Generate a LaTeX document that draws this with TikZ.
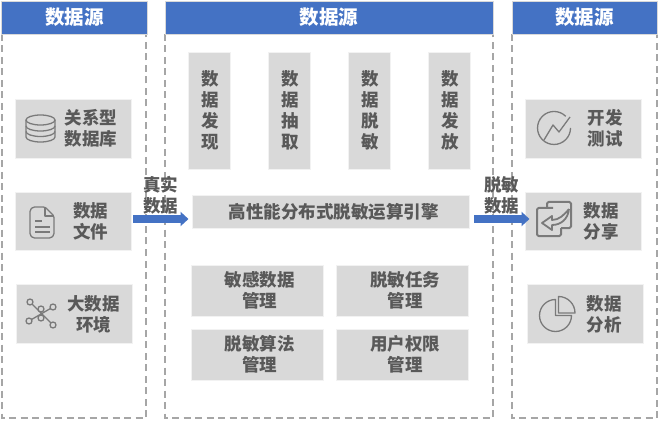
\documentclass[tikz,border=0pt]{standalone}
\usepackage{fontspec}
\setmainfont{Noto Sans CJK SC}
\usetikzlibrary{arrows.meta}
\definecolor{headblue}{HTML}{4472C4}
\definecolor{boxgray}{HTML}{D9D9D9}
\definecolor{textgray}{HTML}{595959}
\definecolor{icongray}{HTML}{7A7A7A}
\definecolor{dashgray}{HTML}{A6A6A6}
\tikzset{
  panelhead/.style={draw=boxgray,line width=0.8pt,fill=headblue,text=white,font=\bfseries\fontsize{19.5}{22}\selectfont,minimum height=33pt,inner sep=0pt},
  graybox/.style={draw=white!95!black,line width=0.8pt,fill=boxgray,inner sep=0pt},
  flowlabel/.style={text=textgray,font=\bfseries\fontsize{17.5}{21}\selectfont,align=center,inner sep=0pt},
  panelline/.style={draw=dashgray,line width=1.5pt,dash pattern=on 7pt off 4.5pt},
  flowarrow/.style={draw=headblue,line width=7pt,-{Triangle[length=8pt,width=14pt]}},
  iconline/.style={draw=icongray,line width=1.3pt,line join=round}
}
\begin{document}
\begin{tikzpicture}[x=1pt,y=-1pt]
\useasboundingbox (0,0) rectangle (661,422);
% dashed panels
\draw[panelline] (2,34) -- (2,418) -- (146,418) -- (146,34);
\draw[panelline] (165,34) -- (165,418) -- (493,418) -- (493,34);
\draw[panelline] (512,34) -- (512,418) -- (657,418) -- (657,34);
% headers
\node[panelhead,minimum width=146pt] (headl) at (74.5,17.5) {数据源};
\node[panelhead,minimum width=328pt] (headm) at (329,17.5) {数据源};
\node[panelhead,minimum width=145pt] (headr) at (584.5,17.5) {数据源};
% left column
\node[graybox,minimum width=116pt,minimum height=59pt] (relbox) at (73.5,128.5) {};
\node[graybox,minimum width=116pt,minimum height=58pt] (filebox) at (73.5,221.5) {};
\node[graybox,minimum width=116pt,minimum height=59pt] (bigbox) at (74.5,314) {};
\node[flowlabel] (reltxt) at (91,128) {关系型\\数据库};
\node[flowlabel] (filetxt) at (90.5,221.5) {数据\\文件};
\node[flowlabel] (bigtxt) at (93.5,314.5) {大数据\\环境};
% database icon
\draw[iconline] (26,120) -- (26,137) arc[start angle=180,end angle=0,x radius=14.5,y radius=5] -- (55,120);
\draw[iconline] (40.5,120) ellipse[x radius=14.5,y radius=5];
\draw[iconline] (26,126) arc[start angle=180,end angle=0,x radius=14.5,y radius=5];
\draw[iconline] (26,131.5) arc[start angle=180,end angle=0,x radius=14.5,y radius=5];
% file icon
\draw[iconline,rounded corners=1.5pt] (45,207) -- (33,207) -- (30,210) -- (30,235) -- (33,238) -- (51,238) -- (54,235) -- (54,216) -- cycle;
\draw[iconline] (45,207) -- (45,216) -- (54,216);
\draw[iconline] (35,221) -- (42,221) (35,227) -- (50,227) (35,232) -- (50,232);
% network icon
\draw[iconline] (30,302) -- (53,325) (29,321) -- (53,307) (41,309) -- (41,318);
\foreach \cx/\cy in {30/302,29/321,53/307,53/325,41/309,41/318}
  \draw[iconline,fill=boxgray] (\cx,\cy) circle (3pt);
% middle column
\node[graybox,minimum width=42pt,minimum height=117pt] (findbox) at (209.5,110.5) {};
\node[graybox,minimum width=42pt,minimum height=117pt] (pullbox) at (289.5,110.5) {};
\node[graybox,minimum width=42pt,minimum height=117pt] (maskbox) at (369.5,110.5) {};
\node[graybox,minimum width=42pt,minimum height=117pt] (sendbox) at (449.5,110.5) {};
\node[graybox,minimum width=277pt,minimum height=33pt] (engine) at (330.5,211.5) {};
\node[graybox,minimum width=132pt,minimum height=51pt] (sensbox) at (257.5,290.5) {};
\node[graybox,minimum width=132pt,minimum height=51pt] (taskbox) at (402.5,290.5) {};
\node[graybox,minimum width=132pt,minimum height=51pt] (algobox) at (257.5,354.5) {};
\node[graybox,minimum width=132pt,minimum height=51pt] (userbox) at (402.5,354.5) {};
\node[flowlabel] (findtxt) at (210.5,110) {数\\据\\发\\现};
\node[flowlabel] (pulltxt) at (290.5,110) {数\\据\\抽\\取};
\node[flowlabel] (masktxt) at (370.5,110) {数\\据\\脱\\敏};
\node[flowlabel] (sendtxt) at (450.5,110) {数\\据\\发\\放};
\node[flowlabel] (enginetxt) at (333.5,211.5) {高性能分布式脱敏运算引擎};
\node[flowlabel] (senstxt) at (259.5,290.5) {敏感数据\\管理};
\node[flowlabel] (tasktxt) at (405,290.5) {脱敏任务\\管理};
\node[flowlabel] (algotxt) at (259.5,354.5) {脱敏算法\\管理};
\node[flowlabel] (usertxt) at (405,354.5) {用户权限\\管理};
% right column
\node[graybox,minimum width=116pt,minimum height=59pt] (devbox) at (583.5,128.5) {};
\node[graybox,minimum width=116pt,minimum height=58pt] (sharebox) at (583.5,221) {};
\node[graybox,minimum width=116pt,minimum height=59pt] (statbox) at (585,313.5) {};
\node[flowlabel] (devtxt) at (605,128.5) {开发\\测试};
\node[flowlabel] (sharetxt) at (601,221.5) {数据\\分享};
\node[flowlabel] (stattxt) at (604,314.5) {数据\\分析};
% trend icon
\draw[iconline] (565.7,116.3) arc[start angle=-45,end angle=-360,radius=16.5];
\draw[iconline] (544,140) -- (553,125) -- (559,132) -- (570,117);
% share icon
\draw[iconline,line width=2pt,rounded corners=1.5pt] (553,208) -- (537,208) -- (537,236) -- (561,236) -- (561,228);
\draw[iconline,line width=2pt,rounded corners=1.5pt] (547,207) -- (547,202) -- (571,202) -- (571,228) -- (561,228);
\draw[iconline,line width=1.8pt] (569,209) .. controls (568,219) and (561,225) .. (552,225) -- (552,230) -- (542,223) -- (552,216) -- (552,220) .. controls (559,220) and (564,215) .. (569,209);
% pie icon
\draw[iconline] (555.5,299.5) arc[start angle=-90,end angle=-360,radius=16] -- (555.5,315.5) -- cycle;
\draw[iconline] (558.5,296.5) arc[start angle=-90,end angle=0,radius=16.5] -- (558.5,313) -- cycle;
% flow arrows
\coordinate (inl) at (133,219);
\coordinate (inr) at (188.5,219);
\coordinate (outl) at (474,219);
\coordinate (outr) at (529.5,219);
\draw[flowarrow] (inl) -- (inr);
\draw[flowarrow] (outl) -- (outr);
\node[flowlabel] (intxt) at (160.5,195.5) {真实\\数据};
\node[flowlabel] (outtxt) at (501.5,195.5) {脱敏\\数据};
\end{tikzpicture}
\end{document}
